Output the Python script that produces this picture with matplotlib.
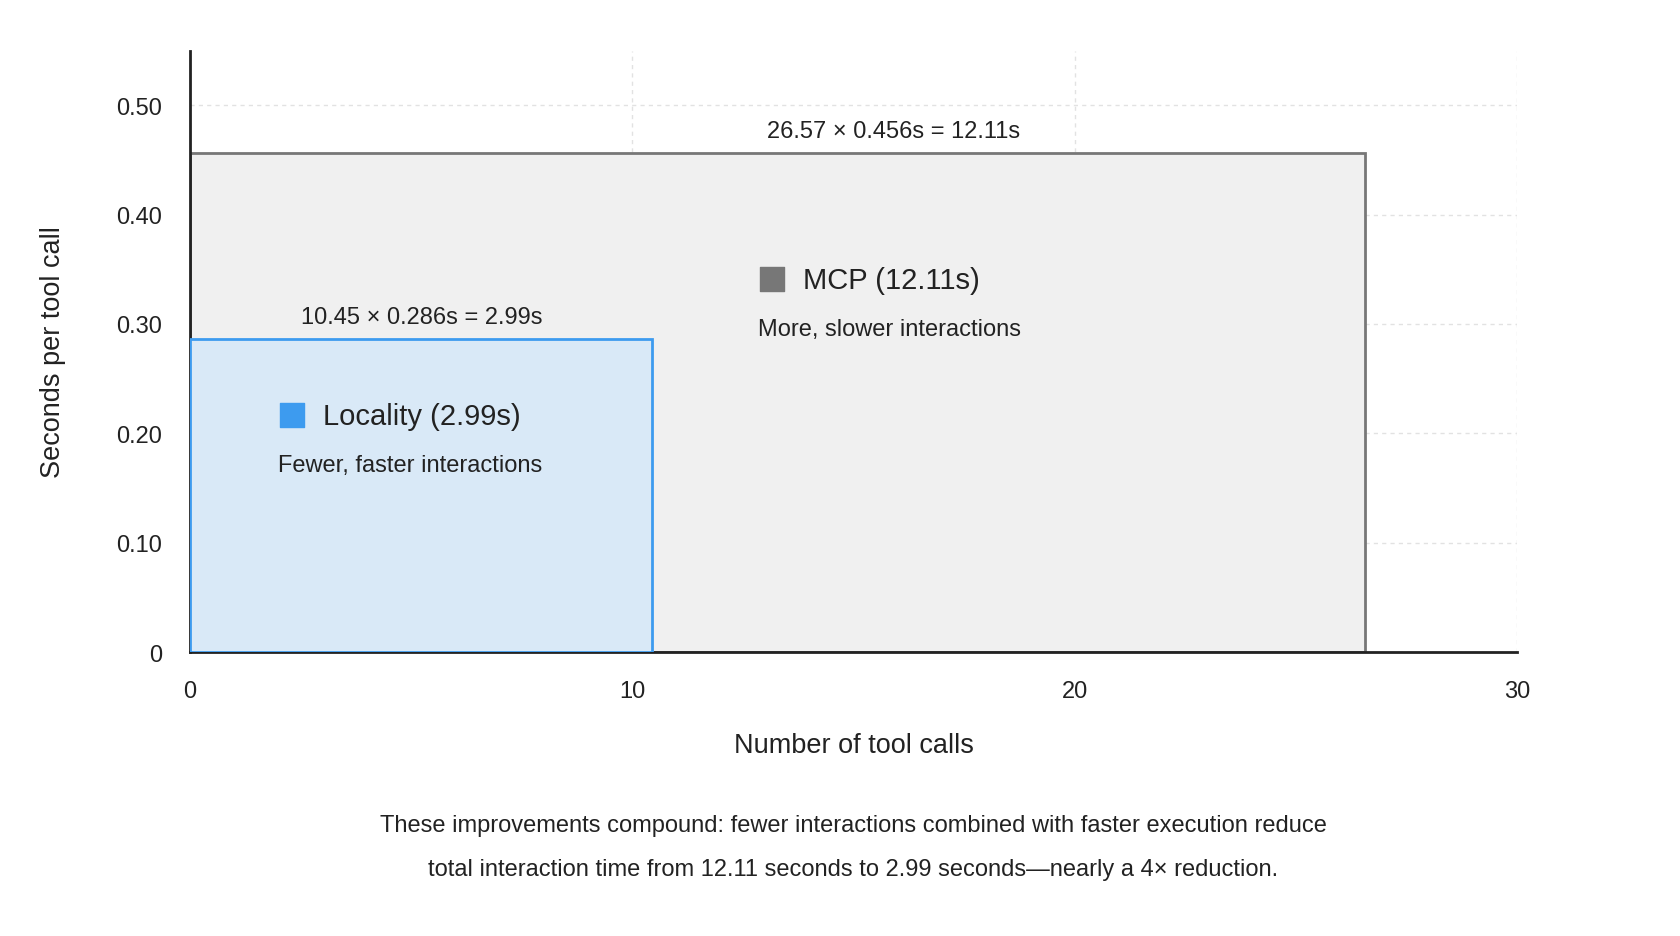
import matplotlib
matplotlib.use("Agg")
import matplotlib.pyplot as plt
from matplotlib.patches import Rectangle

plt.rcParams['font.family'] = ['Liberation Sans', 'DejaVu Sans']

names = ["MCP", "Locality"]
calls = [26.57, 10.45]
secs = [0.456, 0.286]
totals = [12.11, 2.99]
subtitles = ["More, slower interactions", "Fewer, faster interactions"]
faces = ["#f0f0f0", "#d9e9f7"]
edges = ["#777777", "#3d9bef"]
markers = ["#777777", "#3d9bef"]
label_pos = [(12.85, 0.34), (2.0, 0.216)]
annot_x = [15.9, 5.25]
xticks = [0, 10, 20, 30]
yticks = [0, 0.1, 0.2, 0.3, 0.4, 0.5]
ytick_labels = ["0", "0.10", "0.20", "0.30", "0.40", "0.50"]

fig = plt.figure(figsize=(16.8, 9.37), dpi=100)
ax = fig.add_axes([0.113, 0.303, 0.79, 0.642])
ax.set_xlim(0, 30)
ax.set_ylim(0, 0.55)
ax.set_xticks(xticks)
ax.set_yticks(yticks)
ax.set_yticklabels(ytick_labels)
ax.grid(True, color="#e2e2e2", linestyle=(0, (3, 3)), linewidth=1)
ax.set_axisbelow(True)
for s in ["top", "right"]:
    ax.spines[s].set_visible(False)
for s in ["left", "bottom"]:
    ax.spines[s].set_linewidth(2)
    ax.spines[s].set_color("#222222")
ax.tick_params(length=0, labelsize=17, colors="#222222")
ax.tick_params(axis='x', pad=20)
ax.tick_params(axis='y', pad=20)

for i in range(len(names)):
    ax.add_patch(Rectangle((0, 0), calls[i], secs[i], facecolor=faces[i],
                           edgecolor=edges[i], linewidth=2, zorder=2 + i))
    ax.text(annot_x[i], secs[i] + 0.01,
            f"{calls[i]:.2f} × {secs[i]:.3f}s = {totals[i]:.2f}s",
            ha="center", va="bottom", fontsize=17, zorder=5, color="#222222")
    lx, ly = label_pos[i]
    ax.scatter([lx + 0.3], [ly + 0.001], marker="s", s=320, color=markers[i], zorder=6)
    ax.text(lx + 1.0, ly, f"{names[i]} ({totals[i]:.2f}s)", fontsize=21,
            va="center", ha="left", zorder=6, color="#222222")
    ax.text(lx, ly - 0.045, subtitles[i], fontsize=17, va="center", ha="left",
            zorder=6, color="#222222")

ax.set_xlabel("Number of tool calls", fontsize=19.5, labelpad=22, color="#222222")
ax.set_ylabel("Seconds per tool call", fontsize=19.5, labelpad=36, color="#222222")

fig.text(0.508, 0.112, "These improvements compound: fewer interactions combined with faster execution reduce",
         ha="center", fontsize=17, color="#222222")
fig.text(0.508, 0.065, "total interaction time from 12.11 seconds to 2.99 seconds\u2014nearly a 4× reduction.",
         ha="center", fontsize=17, color="#222222")

fig.savefig("out.png", dpi=100, facecolor="white")
